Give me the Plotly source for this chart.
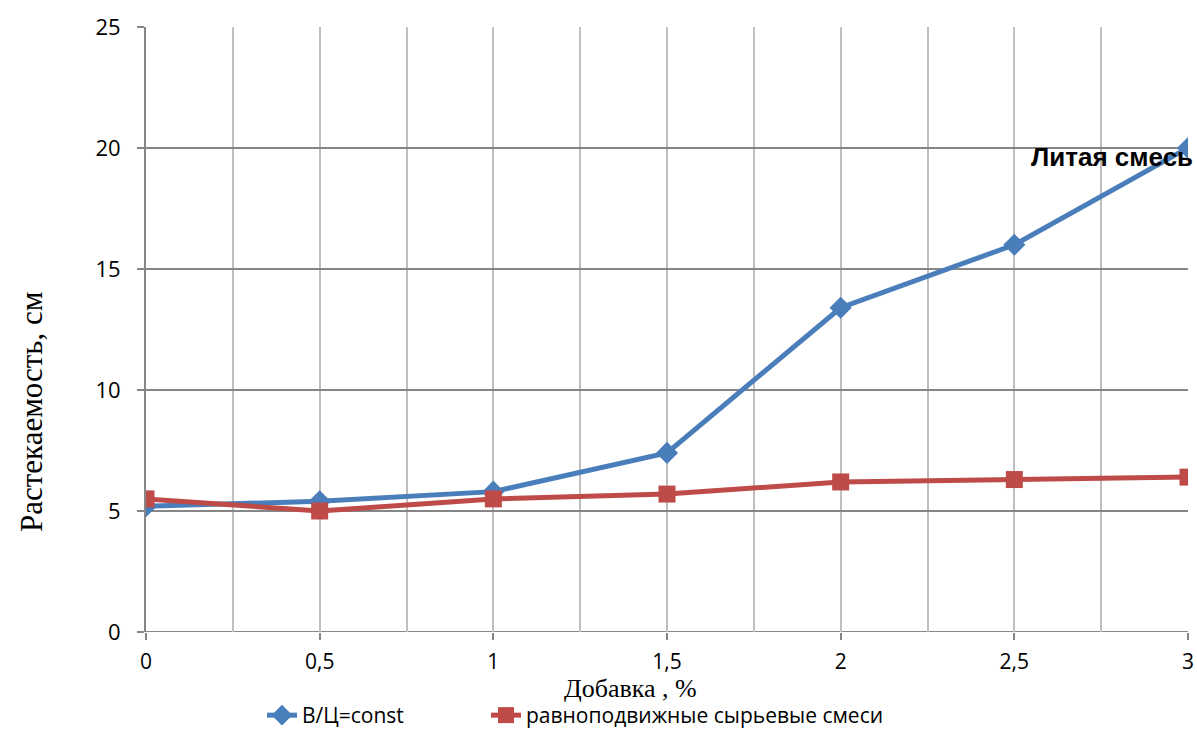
import plotly.graph_objects as go

x_vals = [0, 0.5, 1, 1.5, 2, 2.5, 3]
vc_const = [5.2, 5.4, 5.8, 7.4, 13.4, 16.0, 20.0]
ravnopod = [5.5, 5.0, 5.5, 5.7, 6.2, 6.3, 6.4]
series_names = ["В/Ц=const", "равноподвижные сырьевые смеси"]
x_ticktext = ["0", "0,5", "1", "1,5", "2", "2,5", "3"]

W, H = 1197, 736
L, R, T, B = 146, 9, 27, 104
pw, ph = W - L - R, H - T - B

fig = go.Figure()
fig.add_trace(go.Scatter(x=x_vals, y=vc_const, name=series_names[0], mode="lines+markers",
                         line=dict(color="#4a7ebb", width=5), legend="legend",
                         marker=dict(symbol="diamond", size=17, color="#4a7ebb")))
fig.add_trace(go.Scatter(x=x_vals, y=ravnopod, name=series_names[1], mode="lines+markers",
                         line=dict(color="#be4b48", width=5), legend="legend2",
                         marker=dict(symbol="square", size=17, color="#be4b48")))

leg_common = dict(orientation="h", xref="container", xanchor="left", yref="container",
                  y=0, yanchor="bottom", font=dict(family="Open Sans", size=21),
                  bgcolor="rgba(0,0,0,0)")

fig.update_layout(
    width=W, height=H, paper_bgcolor="white", plot_bgcolor="white",
    margin=dict(l=L, r=R, t=T, b=B, autoexpand=False), separators=", ",
    font=dict(family="Open Sans", size=22, color="black"),
    showlegend=True,
    legend=dict(x=262 / W, **leg_common),
    legend2=dict(x=486 / W, **leg_common),
    xaxis=dict(range=[0, 3], tickvals=x_vals, ticktext=x_ticktext, automargin=False,
               showgrid=True, gridcolor="#bfbfbf", gridwidth=2,
               minor=dict(dtick=0.25, showgrid=True, gridcolor="#bfbfbf", gridwidth=2),
               ticks="outside", ticklen=7, tickcolor="#868686", tickwidth=2,
               ticklabelstandoff=4,
               showline=False, zeroline=False, tickfont=dict(size=21)),
    yaxis=dict(range=[0, 25], dtick=5, showgrid=True, gridcolor="#868686", gridwidth=2,
               automargin=False,
               ticks="outside", ticklen=7, tickcolor="#868686", tickwidth=2,
               ticklabelstandoff=12,
               showline=True, linecolor="#868686", linewidth=2, zeroline=False,
               tickfont=dict(size=22)),
    annotations=[
        dict(text="Литая смесь", x=1.0, y=20, xref="paper", yref="y", xanchor="right", yanchor="middle",
             xshift=7, yshift=-9, showarrow=False,
             font=dict(family="Liberation Sans", size=26, color="black", weight="bold")),
        dict(text="Добавка , %", x=(630 - L) / pw, y=-(688 - 632) / ph, xref="paper", yref="paper",
             xanchor="center", yanchor="middle", showarrow=False,
             font=dict(family="Liberation Serif", size=26, color="black")),
        dict(text="Растекаемость, см", x=-(L - 31) / pw, y=(632 - 412) / ph, xref="paper", yref="paper",
             xanchor="center", yanchor="middle", textangle=-90, showarrow=False,
             font=dict(family="Liberation Serif", size=31, color="black")),
    ],
)
fig.add_hline(y=0, line=dict(color="#868686", width=2), layer="below")

fig.write_html("out.html")
